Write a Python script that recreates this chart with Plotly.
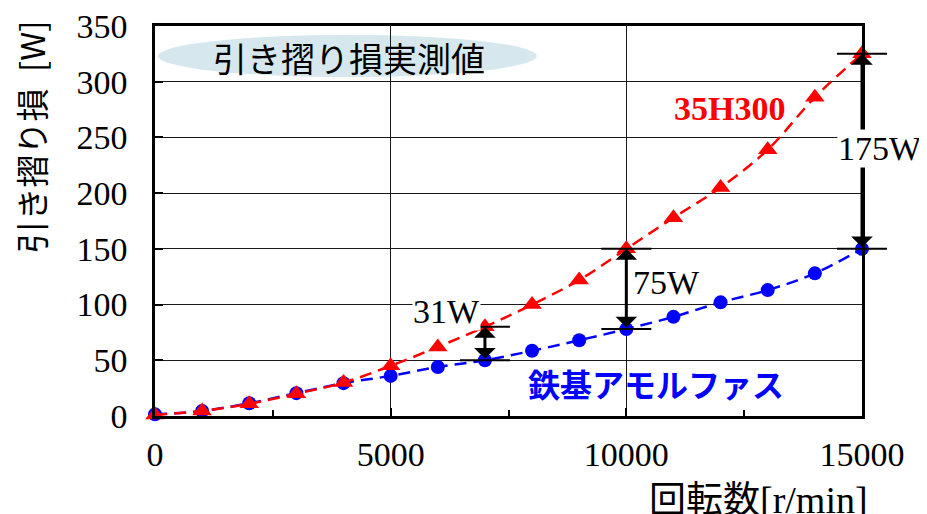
import plotly.graph_objects as go

# ---- data ----
speed = [0, 1000, 2000, 3000, 4000, 5000, 6000, 7000, 8000,
         9000, 10000, 11000, 12000, 13000, 14000, 15000]
loss_35h300 = [1, 4.5, 11, 20, 30, 45, 62, 80, 100,
               122, 150, 178, 205, 239, 286, 325]
loss_amorphous = [1.5, 4.5, 11.5, 20.5, 29.5, 36, 44, 50, 58.5,
                  68, 78, 89, 102, 113, 128, 150]
x_ticks = [0, 5000, 10000, 15000]
y_ticks = [0, 50, 100, 150, 200, 250, 300, 350]
diff_speeds = [7000, 10000, 15000]
diff_labels = ["31W", "75W", "175W"]

X_MAX = 15000
Y_MAX = 350
PLOT_W = 707  # px width of plotting area
PLOT_H = 390

RED = "#ff0000"
BLUE = "#0000ff"
SERIF = "Liberation Serif"
GOTHIC = "Noto Sans CJK JP"

fig = go.Figure()

fig.add_trace(go.Scatter(
    x=speed, y=loss_amorphous, mode="lines+markers", name="鉄基アモルファス",
    line=dict(color=BLUE, width=2.5, dash="12px,7px", shape="spline", smoothing=1),
    marker=dict(symbol="circle", size=14, color=BLUE),
    showlegend=False, cliponaxis=False,
))
fig.add_trace(go.Scatter(
    x=speed, y=loss_35h300, mode="lines+markers", name="35H300",
    line=dict(color=RED, width=2.5, dash="12px,7px", shape="spline", smoothing=1),
    marker=dict(symbol="triangle-up", size=17, color=RED),
    showlegend=False, cliponaxis=False,
))

shapes = []
annotations = []

# title ellipse
shapes.append(dict(type="circle", xref="paper", yref="paper",
                   x0=0.004, x1=0.540, y0=0.869, y1=0.977,
                   fillcolor="#d6e8ee", line=dict(width=0), layer="below"))
annotations.append(dict(xref="paper", yref="paper", x=0.274, y=0.919,
                        text="引き摺り損実測値", showarrow=False,
                        font=dict(family=GOTHIC, size=34, color="black"),
                        xanchor="center", yanchor="middle"))

# difference markers
half = 25 / PLOT_W
label_pos = {
    "31W": dict(xref="x", yref="y", x=6195, y=93.5, xanchor="center"),
    "75W": dict(xref="x", yref="y", x=10842, y=120, xanchor="center"),
    "175W": dict(xref="paper", yref="y", x=1.0255, y=240, xanchor="center"),
}
for s, lab in zip(diff_speeds, diff_labels):
    i = speed.index(s)
    top = loss_35h300[i]
    bot = loss_amorphous[i]
    xp = s / X_MAX
    for yv in (top, bot):
        shapes.append(dict(type="line", xref="paper", yref="y",
                           x0=xp - half, x1=xp + half, y0=yv, y1=yv,
                           line=dict(color="black", width=2), layer="above"))
    annotations.append(dict(xref="x", yref="y", axref="x", ayref="y",
                            x=s, y=top, ax=s, ay=bot, text="",
                            showarrow=True, arrowhead=1, startarrowhead=1,
                            arrowside="end+start", arrowwidth=3,
                            arrowsize=1.2, startarrowsize=1.2,
                            standoff=0, startstandoff=0, arrowcolor="black"))
for lab in diff_labels:
    p = label_pos[lab]
    annotations.append(dict(text=lab, showarrow=False, bgcolor="white",
                            borderpad=0, yanchor="middle",
                            font=dict(family=SERIF, size=34, color="black"), **p))

# series labels
annotations.append(dict(xref="x", yref="y", x=12199, y=276, text="<b>35H300</b>",
                        showarrow=False, font=dict(family=SERIF, size=34, color=RED),
                        xanchor="center", yanchor="middle"))
annotations.append(dict(xref="x", yref="y", x=10629, y=29.6, text="<b>鉄基アモルファス</b>",
                        showarrow=False, font=dict(family=GOTHIC, size=32, color=BLUE),
                        xanchor="center", yanchor="middle"))

# axis titles
annotations.append(dict(xref="paper", yref="paper", x=-0.175, y=0.715,
                        text="引き摺り損\u2002[W]", textangle=-90, showarrow=False,
                        font=dict(family=GOTHIC, size=33, color="black"),
                        xanchor="center", yanchor="middle"))
annotations.append(dict(xref="paper", yref="paper", x=0.853, y=-0.2077,
                        text='回転数<span style="font-family:Liberation Serif;font-size:38px">[r/min]</span>',
                        showarrow=False,
                        font=dict(family=GOTHIC, size=37, color="black"),
                        xanchor="center", yanchor="middle"))

# page body has an 8px default margin; size the figure so the plot area
# lands at the same window position as the reference
fig.update_layout(
    width=919, height=506,
    margin=dict(l=147, r=65, t=18, b=98, autoexpand=False),
    paper_bgcolor="white", plot_bgcolor="white",
    shapes=shapes, annotations=annotations,
    showlegend=False,
)
fig.update_xaxes(
    range=[0, X_MAX], tickvals=x_ticks, ticktext=[str(v) for v in x_ticks],
    showgrid=True, gridcolor="#1a1a1a", gridwidth=1.3,
    showline=True, linecolor="black", linewidth=2.5, mirror=True,
    ticks="inside", ticklen=8, tickwidth=2, tickcolor="black",
    minor=dict(ticks="inside", dtick=2500, tick0=0, ticklen=6, tickwidth=2,
               tickcolor="black", showgrid=False),
    tickfont=dict(family=SERIF, size=34, color="black"),
    ticklabelstandoff=6, zeroline=False, automargin=False,
    ticklabeloverflow="allow",
)
fig.update_yaxes(
    range=[0, Y_MAX], tickvals=y_ticks, ticktext=[str(v) for v in y_ticks],
    showgrid=True, gridcolor="#1a1a1a", gridwidth=1.3,
    showline=True, linecolor="black", linewidth=2.5, mirror=True,
    ticks="inside", ticklen=8, tickwidth=2, tickcolor="black",
    tickfont=dict(family=SERIF, size=34, color="black"),
    ticklabelstandoff=18, zeroline=False, automargin=False,
    ticklabeloverflow="allow",
)

fig.write_html("out.html")
